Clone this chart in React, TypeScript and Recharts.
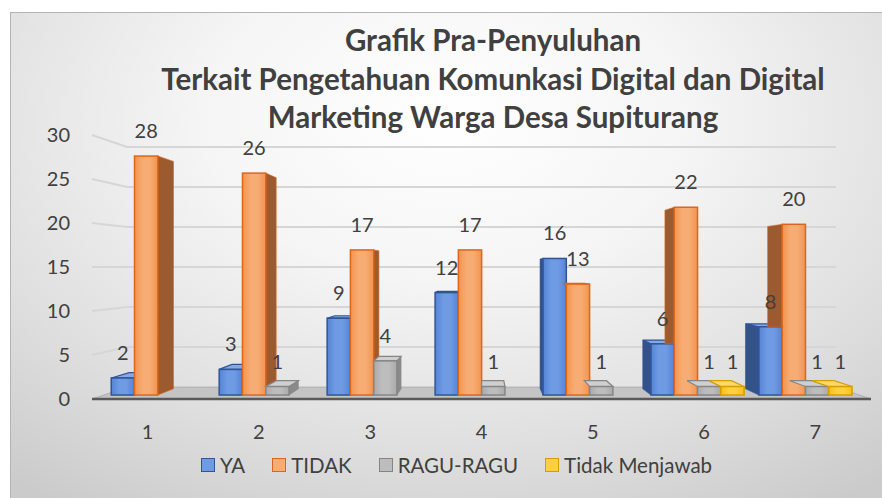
import React from 'react';
import { BarChart, Bar, XAxis, YAxis, CartesianGrid, LabelList } from 'recharts';

// data
const categories = ['1', '2', '3', '4', '5', '6', '7'];
const ya = [2, 3, 9, 12, 16, 6, 8];
const tidak = [28, 26, 17, 17, 13, 22, 20];
const raguRagu = [0, 1, 4, 1, 1, 1, 1];
const tidakMenjawab = [0, 0, 0, 0, 0, 1, 1];
const yTicks = [0, 5, 10, 15, 20, 25, 30];

const series = [
  { key: 'ya', name: 'YA', values: ya, front: '#5584d6', light: '#6f9be4', stroke: '#2f5597', side: '#34528a', top: '#86a9e6' },
  { key: 'tidak', name: 'TIDAK', values: tidak, front: '#f2944f', light: '#f7ac74', stroke: '#dd661b', side: '#9c5a2f', top: '#f8b98a' },
  { key: 'ragu', name: 'RAGU-RAGU', values: raguRagu, front: '#aaaaaa', light: '#bdbdbd', stroke: '#858585', side: '#8a8a8a', top: '#cfcfcf' },
  { key: 'tm', name: 'Tidak Menjawab', values: tidakMenjawab, front: '#fdbf13', light: '#ffd040', stroke: '#d49f00', side: '#b68a0a', top: '#ffd866' },
];

const data = categories.map((c, i) => {
  const row: Record<string, any> = { name: c };
  series.forEach(s => { row[s.key] = s.values[i]; });
  return row;
});

// layout of the (front) plot box
const W = 872;
const H = 486;
const MARGIN = { top: 123, right: 11, bottom: 59, left: 0 };
const Y_W = 82;
const X_H = 40;
const PLOT_L = MARGIN.left + Y_W;
const PLOT_R = W - MARGIN.right;
const PLOT_T = MARGIN.top;
const PLOT_B = H - MARGIN.bottom - X_H;
// perspective: vanishing point and depths
const VX = (PLOT_L + PLOT_R) / 2;
const VY = (PLOT_T + PLOT_B) / 2;
const T0 = 0.03;
const T1 = 0.077;
const TW = 0.09;

const FONT = 'Lato, "Open Sans", sans-serif';
const TEXT = '#404040';

const P = (px: number, py: number, t: number) => [px + (VX - px) * t, py + (VY - py) * t];
const pts = (arr: number[][]) => arr.map(p => `${p[0]},${p[1]}`).join(' ');

const makeShape = (idx: number) => (props: any) => {
  const { x, y, width, height, payload } = props;
  const s = series[idx];
  if (!height || height <= 0) return <g />;
  const x0 = x, x1 = x + width, yt = y, yb = y + height;
  const FLT = P(x0, yt, T0), FRT = P(x1, yt, T0), FRB = P(x1, yb, T0), FLB = P(x0, yb, T0);
  const BLT = P(x0, yt, T1), BRT = P(x1, yt, T1), BRB = P(x1, yb, T1), BLB = P(x0, yb, T1);
  const cx = x + width / 2;
  let side: number[][] | null = null;
  if (cx < VX - 20) {
    side = [FRT, BRT, BRB, FRB];
  } else if (cx > VX + 20) {
    // left side, hidden below the neighbour bar that stands in front of it
    const nVal = idx > 0 ? payload[series[idx - 1].key] : 0;
    const per = height / payload[s.key];
    const cut = nVal > 0 ? P(x0, yb - nVal * per, T0)[1] : Infinity;
    if (cut > FLT[1] + 1) {
      side = [FLT, BLT, [BLB[0], Math.min(BLB[1], cut)], [FLB[0], Math.min(FLB[1], cut)]];
    }
  }
  const topFace = yt > VY ? [FLT, FRT, BRT, BLT] : null;
  return (
    <g>
      {side && <polygon points={pts(side)} fill={s.side} stroke={s.stroke} strokeWidth={1} strokeOpacity={0.6} />}
      {topFace && <polygon points={pts(topFace)} fill={s.top} stroke={s.stroke} strokeWidth={1.2} />}
      <rect x={FLT[0]} y={FLT[1]} width={FRT[0] - FLT[0]} height={FLB[1] - FLT[1]}
        fill={`url(#grad-${s.key})`} stroke={s.stroke} strokeWidth={1.5} />
    </g>
  );
};

const renderLabel = (p: any) => {
  const { x, y, width, value } = p;
  if (!value) return null;
  const [lx, ly] = P(x + width / 2, y, T0);
  return (
    <text x={lx} y={ly - 18} textAnchor="middle" fill={TEXT} fontSize={20} fontFamily={FONT}>
      {value}
    </text>
  );
};

// grid lines run along the left wall and the back wall; the zero line is the floor
const gridLine = (p: any) => {
  const { x1, y1, x2 } = p;
  const [lx, by] = P(x1, y1, TW);
  const [rx] = P(x2, y1, TW);
  const isFloor = Math.abs(y1 - PLOT_B) < 1;
  if (isFloor) {
    return (
      <polygon key={p.key} points={pts([[x1, y1], [x2, y1], [rx, by], [lx, by]])} fill="#c4c4c4" stroke="#b0b0b0" strokeWidth={1} />
    );
  }
  return (
    <path key={p.key} d={`M${x1},${y1} L${lx},${by} L${rx},${by}`} fill="none" stroke="#d6d6d6" strokeWidth={2} />
  );
};

export default function App() {
  return (
    <div
      style={{
        position: 'absolute',
        left: 10,
        top: 12,
        width: W,
        height: H,
        background: 'radial-gradient(ellipse 80% 95% at 50% 22%, #ffffff 0%, #f5f5f5 35%, #e0e0e0 70%, #cbcbcb 100%)',
        boxShadow: 'inset 1px 1px 0 #b4b4b4',
        fontFamily: FONT,
      }}
    >
      <BarChart width={W} height={H} data={data} margin={MARGIN} barCategoryGap="7%" barGap={0}>
        <defs>
          {series.map(s => (
            <linearGradient key={s.key} id={`grad-${s.key}`} x1="0" y1="0" x2="1" y2="0">
              <stop offset="0%" stopColor={s.front} />
              <stop offset="35%" stopColor={s.light} />
              <stop offset="65%" stopColor={s.light} />
              <stop offset="100%" stopColor={s.front} />
            </linearGradient>
          ))}
        </defs>
        <CartesianGrid vertical={false} horizontal={gridLine} />
        <XAxis
          dataKey="name"
          height={X_H}
          tickLine={false}
          tickSize={0}
          tickMargin={26}
          axisLine={{ stroke: '#595959', strokeWidth: 2.5 }}
          tick={{ fill: TEXT, fontSize: 20, fontFamily: FONT }}
        />
        <YAxis
          width={Y_W}
          domain={[0, 30]}
          ticks={yTicks}
          axisLine={false}
          tickLine={false}
          tickSize={0}
          tickMargin={22}
          tick={{ fill: TEXT, fontSize: 20, fontFamily: FONT }}
        />
        {series.map((s, i) => (
          <Bar key={s.key} dataKey={s.key} name={s.name} isAnimationActive={false} shape={makeShape(i)}>
            <LabelList dataKey={s.key} content={renderLabel} />
          </Bar>
        ))}
      </BarChart>

      <div
        style={{
          position: 'absolute',
          top: 9,
          left: 94,
          right: 0,
          textAlign: 'center',
          fontWeight: 700,
          fontSize: 29.5,
          lineHeight: '38.5px',
          color: TEXT,
          pointerEvents: 'none',
        }}
      >
        <div>Grafik Pra-Penyuluhan</div>
        <div>Terkait Pengetahuan Komunkasi Digital dan Digital</div>
        <div>Marketing Warga Desa Supiturang</div>
      </div>

      <div
        style={{
          position: 'absolute',
          top: 438,
          left: 0,
          width: W,
          paddingLeft: 21,
          boxSizing: 'border-box',
          display: 'flex',
          justifyContent: 'center',
          alignItems: 'center',
          height: 30,
          fontSize: 20.5,
          color: TEXT,
        }}
      >
        {series.map(s => (
          <div key={s.key} style={{ display: 'flex', alignItems: 'center', margin: '0 13.5px' }}>
            <span style={{ width: 12, height: 12, background: s.light, border: `1.5px solid ${s.stroke}`, marginRight: 5 }} />
            <span>{s.name}</span>
          </div>
        ))}
      </div>
    </div>
  );
}
